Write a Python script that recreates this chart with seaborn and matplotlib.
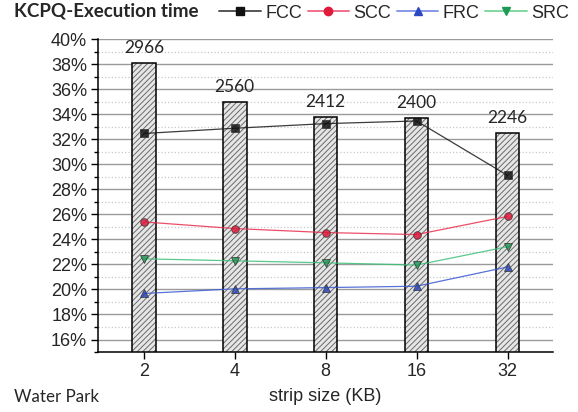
import pandas as pd
import seaborn as sns
import matplotlib.pyplot as plt
from matplotlib.lines import Line2D
from matplotlib.ticker import MultipleLocator, PercentFormatter

# strip sizes (KB) and the bar values (number of ... per strip size)
sizes = ['2', '4', '8', '16', '32']
bar_counts = [2966, 2560, 2412, 2400, 2246]

# execution time share (%) per method
fcc = [32.47, 32.89, 33.26, 33.47, 29.12]
scc = [25.40, 24.87, 24.55, 24.39, 25.84]
frc = [19.68, 20.05, 20.15, 20.26, 21.80]
src = [22.45, 22.29, 22.13, 21.95, 23.42]

methods = ['FCC', 'SCC', 'FRC', 'SRC']
values = [fcc, scc, frc, src]
markers = ['s', 'o', '^', 'v']
line_colors = ['#1a1a1a', '#e8304e', '#3a5ad0', '#3cc078']
marker_colors = ['#111111', '#e01a3c', '#2a48c0', '#1f9a55']
legend_line_colors = ['#555555', '#f07088', '#8898e8', '#80d8a0']

sns.set_style('ticks')
plt.rcParams['font.family'] = ['Liberation Sans', 'DejaVu Sans']
plt.rcParams['hatch.linewidth'] = 0.7

fig = plt.figure(figsize=(5.78, 4.12), dpi=100)
ax = fig.add_axes([0.1701, 0.1456, 0.7866, 0.7590])
ax_bar = ax.twinx()
ax_line = ax.twinx()

bar_df = pd.DataFrame({'size': sizes, 'count': bar_counts})
long_df = pd.DataFrame({
    'size': sizes * len(methods),
    'value': [v for vals in values for v in vals],
    'method': [m for m in methods for _ in sizes],
})

# hatched bars, then black outlines on top
sns.barplot(data=bar_df, x='size', y='count', order=sizes, ax=ax_bar,
            color='#e6e6e6', edgecolor='#6a6a6a', linewidth=0,
            hatch='//////', width=0.26, errorbar=None)
sns.barplot(data=bar_df, x='size', y='count', order=sizes, ax=ax_bar,
            fill=False, color='black', linewidth=1.1, width=0.26,
            errorbar=None)
ax_bar.set_ylim(0, 3205)
for i, c in enumerate(bar_counts):
    ax_bar.annotate(str(c), (i, c), xytext=(0, 5), textcoords='offset points',
                    ha='center', va='bottom', fontsize=12.5, family='Lato')
ax_bar.axis('off')

for m, mk, lc, mc in zip(methods, markers, line_colors, marker_colors):
    sns.pointplot(data=long_df[long_df['method'] == m], x='size', y='value',
                  order=sizes, ax=ax_line, color=lc, marker=mk,
                  linewidth=0.9, markersize=5.5, markerfacecolor=mc,
                  markeredgecolor='#333333', markeredgewidth=0.6,
                  alpha=0.85, errorbar=None)
ax_line.set_ylim(15, 40)
ax_line.axis('off')

ax.set_ylim(15, 40)
ax.set_xlim(-0.5, 4.5)
ax.yaxis.set_major_locator(MultipleLocator(2))
ax.yaxis.set_minor_locator(MultipleLocator(1))
ax.yaxis.set_major_formatter(PercentFormatter(decimals=0))
ax.grid(axis='y', which='major', color='#9a9a9a', linewidth=1.0, linestyle='-')
ax.grid(axis='y', which='minor', color='#c8c8c8', linewidth=0.9, linestyle=':')
ax.set_axisbelow(True)
ax.set_xticks(range(len(sizes)))
ax.set_xticklabels(sizes)
ax.tick_params(axis='both', which='major', labelsize=13, length=5, width=1,
               color='black', pad=3)
ax.tick_params(axis='y', which='minor', length=3, width=1, color='black')
ax.tick_params(axis='x', which='minor', length=0)
for side in ['top', 'right']:
    ax.spines[side].set_visible(False)
for side in ['left', 'bottom']:
    ax.spines[side].set_color('black')
    ax.spines[side].set_linewidth(1.1)
ax.set_xlabel('strip size (KB)', fontsize=13, labelpad=6)
ax.set_ylabel('')

fig.text(14 / 578, 1 - 11 / 412, 'KCPQ-Execution time', family='Lato',
         fontweight='bold', fontsize=13.5, ha='left', va='center')
fig.text(14 / 578, 1 - 397 / 412, 'Water Park', family='Lato',
         fontsize=12.2, ha='left', va='center')

handles = [Line2D([], [], color=lc, marker=mk, markersize=6,
                  markerfacecolor=mc, markeredgecolor=mc, linewidth=1.4)
           for mk, lc, mc in zip(markers, legend_line_colors, marker_colors)]
fig.legend(handles, methods, loc='center right', ncol=4, frameon=False,
           bbox_to_anchor=(569 / 578, 1 - 13 / 412), fontsize=13,
           handlelength=2.3, handletextpad=0.25, columnspacing=0.3,
           borderpad=0, borderaxespad=0)

fig.savefig('out.png', dpi=100)
